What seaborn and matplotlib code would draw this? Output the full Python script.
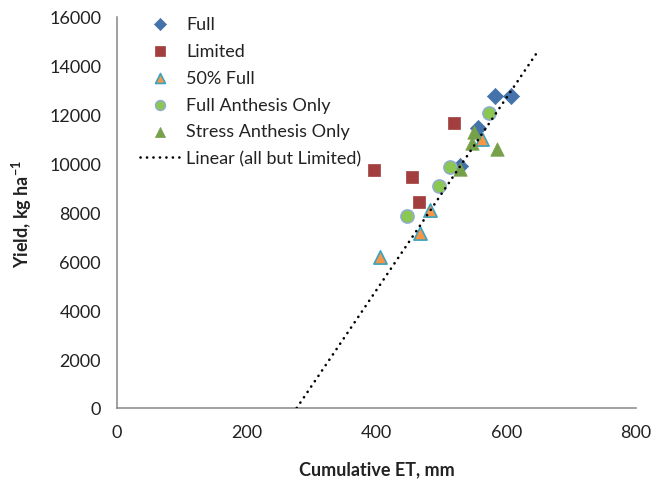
import matplotlib
matplotlib.use("Agg")
import matplotlib.pyplot as plt
import seaborn as sns
import pandas as pd

# ---- data ----
full_et = [582, 608, 557, 528]
full_y = [12750, 12750, 11440, 9900]
limited_et = [396, 455, 466, 519]
limited_y = [9750, 9450, 8440, 11650]
half_et = [406, 467, 482, 563]
half_y = [6170, 7160, 8110, 11010]
fao_et = [447, 496, 513, 573]
fao_y = [7870, 9070, 9850, 12060]
sao_et = [528, 547, 550, 586]
sao_y = [9800, 10860, 11300, 10600]
# trendline "Linear (all but Limited)" end points
trend_et = [277, 649]
trend_y = [0, 14607]

x_ticks = [0, 200, 400, 600, 800]
y_ticks = [0, 2000, 4000, 6000, 8000, 10000, 12000, 14000, 16000]

sns.set_theme(style="white")
plt.rcParams['font.family'] = ['Lato', 'DejaVu Sans']
plt.rcParams['mathtext.fontset'] = 'custom'
plt.rcParams['mathtext.rm'] = 'Lato'
plt.rcParams['mathtext.bf'] = 'Lato:bold'

W, H = 666, 481
fig = plt.figure(figsize=(W / 100, H / 100), dpi=100)
ax = fig.add_axes([117 / W, 1 - 409 / H, (636 - 117) / W, (409 - 18) / H])

series = [
    ("Full", full_et, full_y, dict(marker="D", s=68, color="#4472AA", edgecolor="#4472AA", linewidth=0.5)),
    ("Limited", limited_et, limited_y, dict(marker="s", s=82, color="#A23F3E", edgecolor="#A23F3E", linewidth=0.5)),
    ("50% Full", half_et, half_y, dict(marker="^", s=90, color="#F79646", edgecolor="#3AA3C0", linewidth=1.2)),
    ("Full Anthesis Only", fao_et, fao_y, dict(marker="o", s=92, color="#8CC653", edgecolor="#8FAAD8", linewidth=1.0)),
    ("Stress Anthesis Only", sao_et, sao_y, dict(marker="^", s=94, color="#77A04B", edgecolor="#77A04B", linewidth=0.5)),
]

for i, (name, xs, ys, kw) in enumerate(series):
    df = pd.DataFrame({"ET": xs, "Yield": ys})
    sns.scatterplot(data=df, x="ET", y="Yield", ax=ax, label=name, zorder=3 + i, **kw)

tdf = pd.DataFrame({"ET": trend_et, "Yield": trend_y})
sns.lineplot(data=tdf, x="ET", y="Yield", ax=ax, color="black", linewidth=1.9,
             linestyle=(0, (0.05, 2.4)), dash_capstyle="round", zorder=10,
             label="Linear (all but Limited)")

ax.set_xlim(0, 800)
ax.set_ylim(0, 16000)
ax.set_xticks(x_ticks)
ax.set_yticks(y_ticks)
ax.set_xticklabels([str(v) for v in x_ticks])
ax.set_yticklabels([str(v) for v in y_ticks])

for side in ["top", "right"]:
    ax.spines[side].set_visible(False)
for side in ["left", "bottom"]:
    ax.spines[side].set_color("#868686")
    ax.spines[side].set_linewidth(1.1)

ax.tick_params(axis="both", direction="out", length=4.5, width=1.0, color="#868686",
               labelsize=13, labelcolor="#222222", pad=7)
ax.grid(False)

ax.set_xlabel("Cumulative ET, mm", fontsize=13, fontweight="bold", color="#222222")
ax.set_ylabel(r"Yield, kg ha$^{\mathbf{-1}}$", fontsize=13, fontweight="bold", color="#222222")
ax.xaxis.set_label_coords(0.5, (409 - 470) / 391)
ax.xaxis.label.set_va("center")
ax.yaxis.set_label_coords((22 - 117) / 519, 0.5)
ax.yaxis.label.set_va("center")

leg = ax.legend(loc="upper left", bbox_to_anchor=(140 / W, 1 - 17 / H), bbox_transform=fig.transFigure,
                frameon=False, borderpad=0, borderaxespad=0, handlelength=2.2, handletextpad=0.35,
                labelspacing=0.6, fontsize=13, markerscale=0.75)
for t in leg.get_texts():
    t.set_color("#222222")

fig.savefig("out.png", dpi=100)
